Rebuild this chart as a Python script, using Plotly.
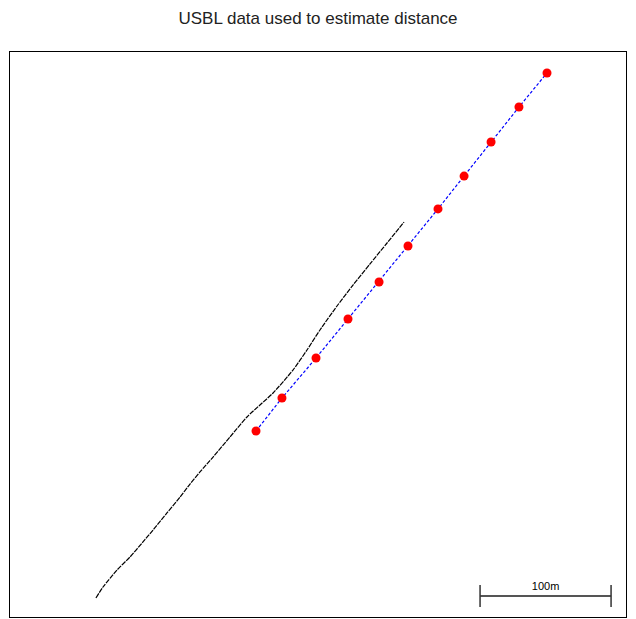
import plotly.graph_objects as go

# Track positions in metres (relative easting / northing)
track_x = [65.6, 71.0, 81.7, 91.6, 101.5, 109.2, 119.8, 129.8, 137.4, 145.0, 155.0, 167.9,
           180.9, 190.8, 200.8, 216.0, 226.7, 236.6, 249.6, 261.8, 274.8, 287.8, 300.8]
track_y = [14.5, 22.9, 35.9, 45.8, 57.3, 66.4, 79.4, 91.6, 101.5, 110.7, 122.1, 137.4,
           152.7, 161.8, 171.0, 188.5, 203.8, 219.1, 237.4, 253.4, 269.5, 285.5, 301.5]

usbl_x = [187.8, 207.6, 233.6, 258.0, 281.7, 303.8, 326.7, 346.6, 367.2, 388.5, 409.9]
usbl_y = [142.0, 167.2, 197.7, 227.5, 255.7, 283.2, 311.5, 336.6, 362.6, 389.3, 415.3]

scale_len = 100
scale_x0 = 358.8
scale_y = 16.0
scale_label = "100m"

x_range = [0, 470.2]
y_range = [0, 431.3]

fig = go.Figure()
fig.add_trace(go.Scatter(x=track_x, y=track_y, mode="lines",
                         line=dict(color="black", width=1.2, dash="5px,1px",
                                   shape="spline", smoothing=0.6),
                         hoverinfo="skip"))
fig.add_trace(go.Scatter(x=usbl_x, y=usbl_y, mode="lines",
                         line=dict(color="blue", width=1.2, dash="3px,2px"),
                         hoverinfo="skip"))
fig.add_trace(go.Scatter(x=usbl_x, y=usbl_y, mode="markers",
                         marker=dict(color="red", size=9, line=dict(width=0))))
# scale bar
fig.add_trace(go.Scatter(x=[scale_x0, scale_x0 + scale_len], y=[scale_y, scale_y],
                         mode="lines", line=dict(color="#555555", width=2), hoverinfo="skip"))
for sx in [scale_x0, scale_x0 + scale_len]:
    fig.add_trace(go.Scatter(x=[sx, sx], y=[scale_y - 8.4, scale_y + 8.4], mode="lines",
                             line=dict(color="#333333", width=1.5), hoverinfo="skip"))
fig.add_trace(go.Scatter(x=[scale_x0 + scale_len / 2], y=[scale_y + 6.5], mode="text",
                         text=[scale_label], textposition="middle center",
                         textfont=dict(family="Liberation Sans, Arial", size=11, color="black"),
                         hoverinfo="skip"))

fig.update_layout(
    width=636, height=619,
    margin=dict(l=10, r=10, t=52, b=2),
    paper_bgcolor="white", plot_bgcolor="white",
    showlegend=False,
    title=dict(text="USBL data used to estimate distance", x=0.5, xanchor="center",
               y=1 - 18 / 619, yanchor="middle",
               font=dict(family="Liberation Sans, Arial", size=17, color="#222222")),
    xaxis=dict(range=x_range, showgrid=False, zeroline=False, showticklabels=False,
               ticks="", showline=True, mirror=True, linecolor="black", linewidth=1),
    yaxis=dict(range=y_range, showgrid=False, zeroline=False, showticklabels=False,
               ticks="", showline=True, mirror=True, linecolor="black", linewidth=1),
)
fig.write_html("out.html")
